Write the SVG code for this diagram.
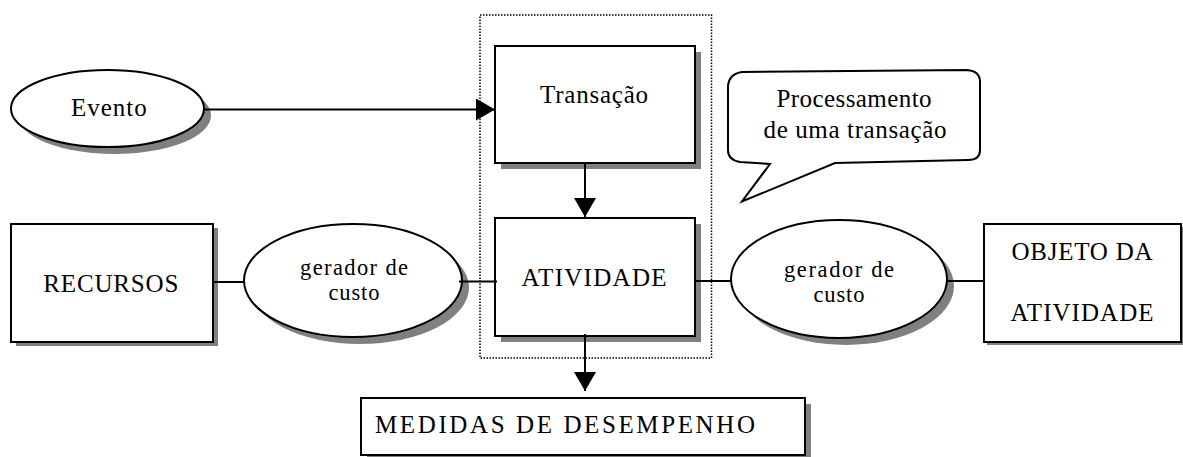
<svg xmlns="http://www.w3.org/2000/svg" width="1183" height="457" viewBox="0 0 1183 457">
<defs>
<style>
.shape{fill:#fff;stroke:#000;stroke-width:2}
.shadow{fill:#808080;stroke:none}
.lbl{font-family:"Liberation Serif","Times New Roman",serif;font-size:25px;fill:#000;text-anchor:middle}
.sm{font-size:22.5px}
.conn{fill:none;stroke:#000;stroke-width:2}
.dot{fill:none;stroke:#000;stroke-width:1.5;stroke-dasharray:1.5 1.5}
</style>
<marker id="ah" markerUnits="userSpaceOnUse" markerWidth="19" markerHeight="22" refX="19" refY="11" orient="auto">
<path d="M0,0 L19,11 L0,22 Z" fill="#000"/>
</marker>
</defs>
<rect width="1183" height="457" fill="#fff"/>

<g id="grupo-atividade">
<rect class="dot" x="480" y="15" width="231.5" height="343"/>
</g>

<g id="evento">
<ellipse class="shadow" cx="114.5" cy="115.5" rx="96.5" ry="38.5"/>
<ellipse class="shape" cx="107.5" cy="108.5" rx="96.5" ry="38.5"/>
<text class="lbl" x="108.8" y="116" textLength="75.7" lengthAdjust="spacing">Evento</text>
</g>

<g id="transacao">
<rect class="shadow" x="501" y="52" width="200" height="117"/>
<rect class="shape" x="495" y="46" width="200" height="117"/>
<text class="lbl" x="594" y="103" textLength="108" lengthAdjust="spacing">Transação</text>
</g>

<g id="balao">
<path class="shape" d="M728,86 Q729,74 742,72 L967,70 Q980,71 980,82 L980,150 Q980,160 968,160 L835,163 L742,201.5 L770,164 L740,162 Q728,160 728,150 Z"/>
<text class="lbl" x="854" y="106.7" textLength="155" lengthAdjust="spacing">Processamento</text>
<text class="lbl" x="855" y="137.5" textLength="183" lengthAdjust="spacing">de uma transação</text>
</g>

<g id="recursos">
<rect class="shadow" x="16" y="228" width="202" height="118"/>
<rect class="shape" x="11" y="224" width="202" height="118"/>
<text class="lbl" x="110.8" y="292" textLength="135" lengthAdjust="spacing">RECURSOS</text>
</g>

<g id="gerador-esq">
<ellipse class="shadow" cx="360" cy="287.5" rx="109" ry="56.5"/>
<ellipse class="shape" cx="353" cy="280.5" rx="109" ry="56.5"/>
<text class="lbl sm" x="354" y="275" textLength="108" lengthAdjust="spacing">gerador de</text>
<text class="lbl sm" x="354" y="300" textLength="51" lengthAdjust="spacing">custo</text>
</g>

<g id="atividade">
<rect class="shadow" x="501" y="224" width="200" height="118"/>
<rect class="shape" x="495" y="218" width="200" height="118"/>
<text class="lbl" x="594" y="286" textLength="145" lengthAdjust="spacing">ATIVIDADE</text>
</g>

<g id="gerador-dir">
<ellipse class="shadow" cx="846" cy="286" rx="108" ry="59"/>
<ellipse class="shape" cx="839" cy="279" rx="108" ry="59"/>
<text class="lbl sm" x="839" y="276.5" textLength="110" lengthAdjust="spacing">gerador de</text>
<text class="lbl sm" x="839" y="301.5" textLength="51" lengthAdjust="spacing">custo</text>
</g>

<g id="objeto">
<rect class="shadow" x="987" y="227" width="197" height="118"/>
<rect class="shape" x="984" y="224" width="197" height="118"/>
<text class="lbl" x="1082" y="260" textLength="141" lengthAdjust="spacing">OBJETO DA</text>
<text class="lbl" x="1082" y="320.5" textLength="143" lengthAdjust="spacing">ATIVIDADE</text>
</g>

<g id="medidas">
<rect class="shadow" x="367" y="404" width="444" height="58"/>
<rect class="shape" x="361" y="398" width="444" height="57"/>
<text class="lbl" x="375" y="432.5" style="text-anchor:start" textLength="380" lengthAdjust="spacing">MEDIDAS DE DESEMPENHO</text>
</g>

<g id="connectors">
<line class="conn" x1="204" y1="109.5" x2="495" y2="109.5" marker-end="url(#ah)"/>
<line class="conn" x1="585" y1="163" x2="585" y2="217" marker-end="url(#ah)"/>
<line class="conn" x1="585" y1="334" x2="585" y2="391" marker-end="url(#ah)"/>
<line class="conn" x1="213" y1="282" x2="245" y2="282"/>
<line class="conn" x1="459" y1="281.5" x2="497" y2="281.5"/>
<line class="conn" x1="695" y1="281" x2="731" y2="281"/>
<line class="conn" x1="946" y1="281" x2="984" y2="281"/>
</g>
</svg>
